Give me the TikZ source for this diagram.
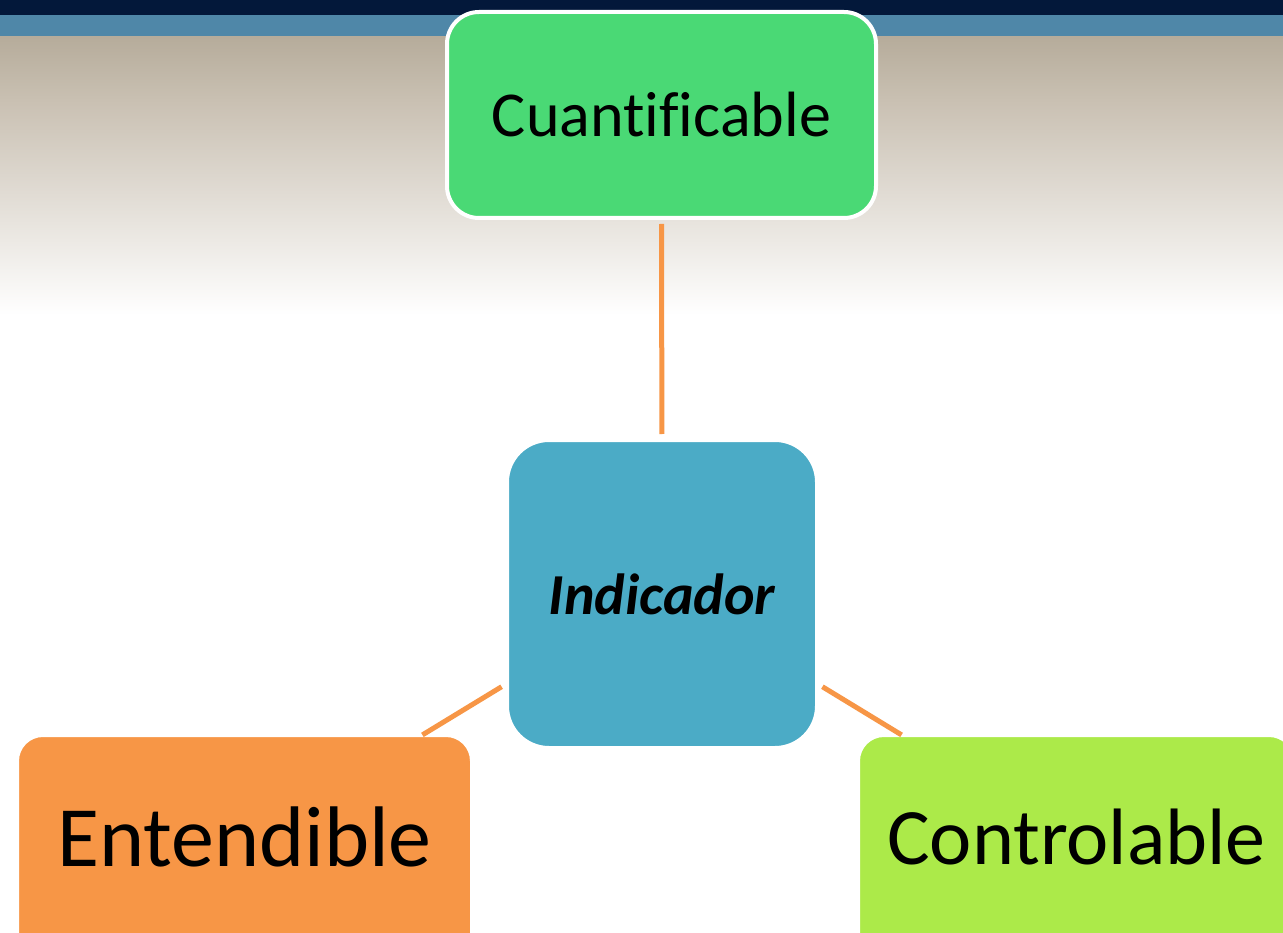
\documentclass[tikz,border=0pt]{standalone}
\usepackage{fontspec}
\setmainfont{Carlito}[Ligatures={NoCommon}]
\definecolor{navy}{HTML}{03183A}
\definecolor{band}{HTML}{4F87A8}
\definecolor{sandA}{HTML}{B6AC9B}
\definecolor{sandB}{HTML}{C9C0B2}
\definecolor{boxgreen}{HTML}{4AD975}
\definecolor{boxblue}{HTML}{4BABC6}
\definecolor{boxorange}{HTML}{F79646}
\definecolor{boxlime}{HTML}{ACEA49}
\definecolor{linkorange}{HTML}{F79646}
\tikzset{
  card/.style={draw=white, line width=4pt, rounded corners=#1, inner sep=0pt, text=black, align=center},
  card/.default=30pt,
  link/.style={draw=linkorange, line width=5pt, shorten <=4pt, shorten >=4pt}
}
\begin{document}
\begin{tikzpicture}[x=1pt,y=-1pt]
\useasboundingbox (0,0) rectangle (1283,933);
\begin{scope}
\clip (0,0) rectangle (1283,933);
% page background: header bars and the sand-to-white fade
\fill[white] (0,0) rectangle (1283,933);
\fill[navy] (0,0) rectangle (1283,15);
\fill[band] (0,15) rectangle (1283,37);
\shade[top color=sandA, bottom color=sandB] (0,37) rectangle (1283,100);
\shade[top color=sandB, bottom color=white] (0,100) rectangle (1283,315);

% the four cards
\node[card=32pt, fill=boxgreen, minimum width=429pt, minimum height=206pt,
      font=\fontsize{64}{70}\selectfont] (cuant) at (661.5,115) {Cuantificable};
\node[card=42pt, fill=boxblue, minimum width=310pt, minimum height=308pt,
      font=\fontsize{58}{64}\selectfont\bfseries\itshape] (ind) at (662,594) {Indicador};
\node[card=26pt, fill=boxorange, minimum width=455pt, minimum height=230pt,
      text depth=26pt, font=\fontsize{86}{92}\selectfont] (ent) at (244.5,850) {Entendible};
\node[card=26pt, fill=boxlime, minimum width=437pt, minimum height=230pt,
      text depth=26pt, font=\fontsize{80}{88}\selectfont] (ctrl) at (1076.5,850) {Controlable};

% where the side connectors meet the top edges of the lower cards
\coordinate (entjoin) at (419,737);
\coordinate (ctrljoin) at (905,737);

% connectors from the centre card
\draw[link] (ind) -- (cuant);
\draw[link] (ind.210) -- (entjoin);
\draw[link] (ind.-30) -- (ctrljoin);
\end{scope}
\end{tikzpicture}
\end{document}
